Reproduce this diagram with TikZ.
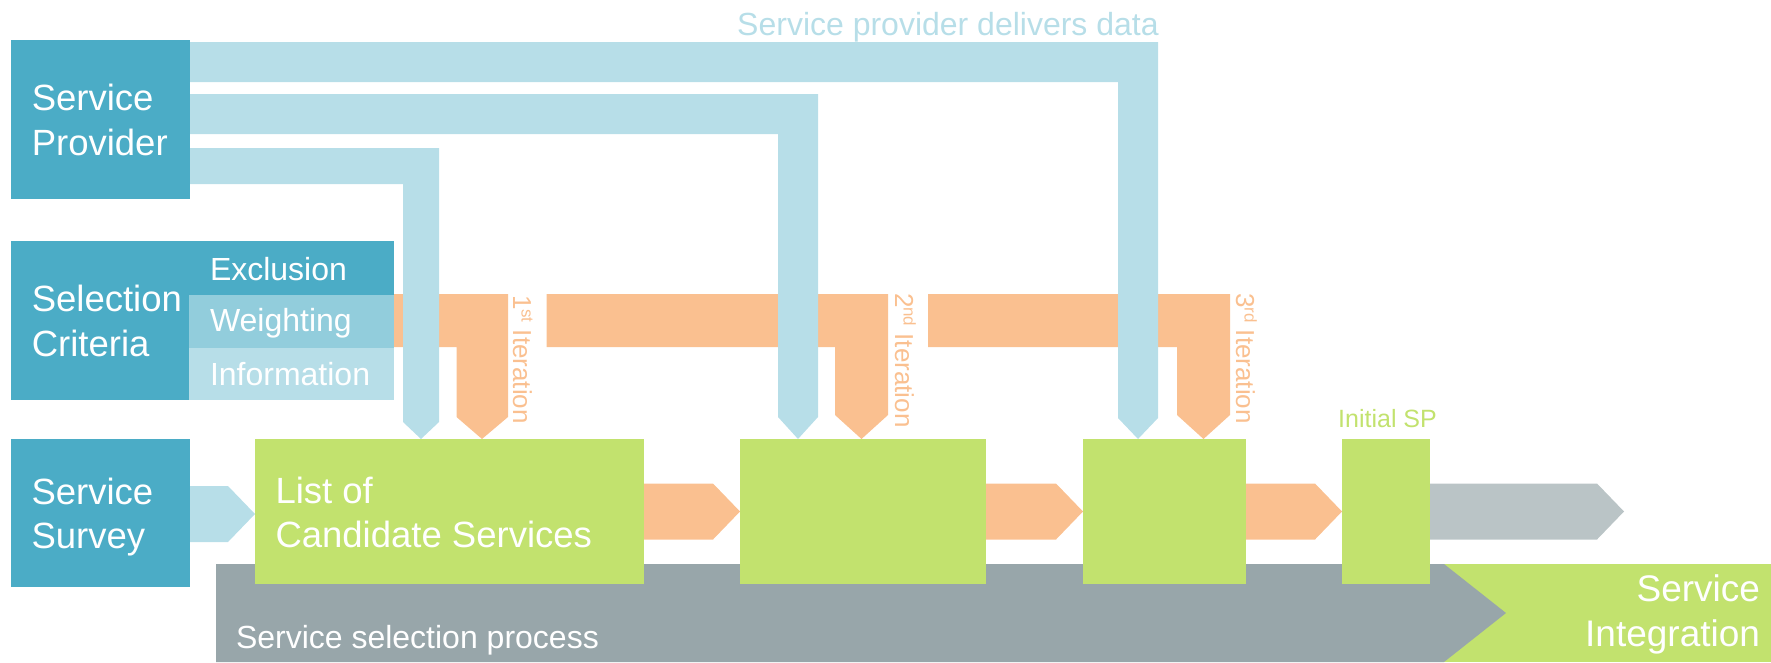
\documentclass[tikz,border=0pt]{standalone}
\usepackage{fontspec}
\setmainfont{Liberation Sans}
\usetikzlibrary{calc}

\definecolor{cteal}{HTML}{4BACC6}
\definecolor{cmid}{HTML}{92CDDC}
\definecolor{clight}{HTML}{B7DEE8}
\definecolor{corange}{HTML}{FAC090}
\definecolor{cgreen}{HTML}{C2E26E}
\definecolor{cgray}{HTML}{98A6AA}
\definecolor{cgraylt}{HTML}{BAC4C6}

% raised small suffix for ordinals
\newcommand\itsup[1]{\raisebox{0.33em}{\fontsize{17}{17}\selectfont #1}}

% flat chevron arrow from a box edge to a tip point, level with the tip
\newcommand\chevarrow[3]{%
  \fill[#1] ($(#2.east |- #3)+(0,-28)$) -- ($(#3)+(-27,-28)$) -- (#3)
    -- ($(#3)+(-27,28)$) -- ($(#2.east |- #3)+(0,28)$) -- cycle;}

\begin{document}
\begin{tikzpicture}[x=1pt,y=-1pt,
  box/.style={inner sep=0pt, outer sep=0pt, anchor=north west},
  lbl/.style={inner sep=0pt, outer sep=0pt, text=white, align=left,
    font=\fontsize{36.5}{45}\selectfont},
  sublbl/.style={inner sep=0pt, outer sep=0pt, text=white, anchor=base west,
    font=\fontsize{32}{38}\selectfont},
  iterlbl/.style={inner sep=0pt, outer sep=0pt, text=corange, rotate=-90,
    anchor=base west, font=\fontsize{26}{30}\selectfont},
  band/.style={fill=clight},
  oband/.style={fill=corange}]

\useasboundingbox (0,0) rectangle (1771,662);

% iteration feedback bands (orange)
\fill[oband] (394,294) -- (508,294) -- (508,417) -- (482,439) -- (456.5,417)
  -- (456.5,347) -- (394,347) -- cycle;
\fill[oband] (546.5,294) -- (888,294) -- (888,415) -- (861.5,439) -- (835,415)
  -- (835,347) -- (546.5,347) -- cycle;
\fill[oband] (928,294) -- (1230,294) -- (1230,415) -- (1203.5,439) -- (1177,415)
  -- (1177,347) -- (928,347) -- cycle;

% data delivered by the service provider (light blue)
\fill[band] (190,42) -- (1158,42) -- (1158,418) -- (1138,439) -- (1118,418)
  -- (1118,82) -- (190,82) -- cycle;
\fill[band] (190,94) -- (818,94) -- (818,417) -- (798,439) -- (778,417)
  -- (778,134) -- (190,134) -- cycle;
\fill[band] (190,148) -- (439,148) -- (439,422) -- (421,439) -- (403,422)
  -- (403,184) -- (190,184) -- cycle;

\node[text=clight, anchor=base west, inner sep=0pt, font=\fontsize{32}{38}\selectfont]
  (deliver) at (737,35) {Service provider delivers data};

% left column (multi-line labels are placed by their last baseline)
\node[box, fill=cteal, minimum width=179pt, minimum height=159pt] (sp) at (11,40) {};
\node[lbl, anchor=base west] (sptext) at (31.8,155) {Service\\Provider};

\node[box, fill=cteal, minimum width=383pt, minimum height=159pt] (sel) at (11,241) {};
\node[box, fill=cmid, minimum width=205pt, minimum height=53pt] (weight) at (189,295) {};
\node[box, fill=clight, minimum width=205pt, minimum height=52pt] (info) at (189,348) {};
\node[lbl, anchor=base west] (seltext) at (31.8,356.7) {Selection\\Criteria};
\node[sublbl] (excl) at (210,280) {Exclusion};
\node[sublbl] (wtext) at (210,331.7) {Weighting};
\node[sublbl] (itext) at (210,385.7) {Information};

\node[box, fill=cteal, minimum width=179pt, minimum height=148pt] (survey) at (11,439) {};
\node[lbl, anchor=base west, font=\fontsize{36.5}{43.5}\selectfont] (survtext) at (31.6,548) {Service\\Survey};

% process bar and integration
\fill[cgreen] (1444,564) rectangle (1771,662);
\fill[cgray] (216,564) -- (1444,564) -- (1506,613) -- (1444,662) -- (216,662) -- cycle;
\node[sublbl] (proc) at (236,648) {Service selection process};
\node[lbl, align=right, anchor=base east, font=\fontsize{37}{45}\selectfont]
  (integ) at (1760,646.7) {Service\\Integration};

% candidate lists
\node[box, fill=cgreen, minimum width=389pt, minimum height=145pt] (l1) at (255,439) {};
\node[box, fill=cgreen, minimum width=246pt, minimum height=145pt] (l2) at (740,439) {};
\node[box, fill=cgreen, minimum width=163pt, minimum height=145pt] (l3) at (1083,439) {};
\node[box, fill=cgreen, minimum width=88pt, minimum height=145pt] (l4) at (1342,439) {};
\node[lbl, anchor=base west, font=\fontsize{36.5}{44.7}\selectfont] (listtext) at (275.5,547.7)
  {List of\\Candidate Services};
\node[text=cgreen, anchor=base west, inner sep=0pt, font=\fontsize{25}{30}\selectfont]
  (initsp) at (1338,427) {Initial SP};

% flow arrows
\coordinate (out) at (1624,511.5);
\coordinate (survtip) at ($(l1.west)+(0,2.5)$);
\chevarrow{clight}{survey}{survtip}
\chevarrow{corange}{l1}{l2.west}
\chevarrow{corange}{l2}{l3.west}
\chevarrow{corange}{l3}{l4.west}
\chevarrow{cgraylt}{l4}{out}

% iteration labels
\node[iterlbl] (it1) at (513,295) {1\itsup{st} Iteration};
\node[iterlbl] (it2) at (895,293) {2\itsup{nd} Iteration};
\node[iterlbl] (it3) at (1236,293) {3\itsup{rd} Iteration};

\end{tikzpicture}
\end{document}
